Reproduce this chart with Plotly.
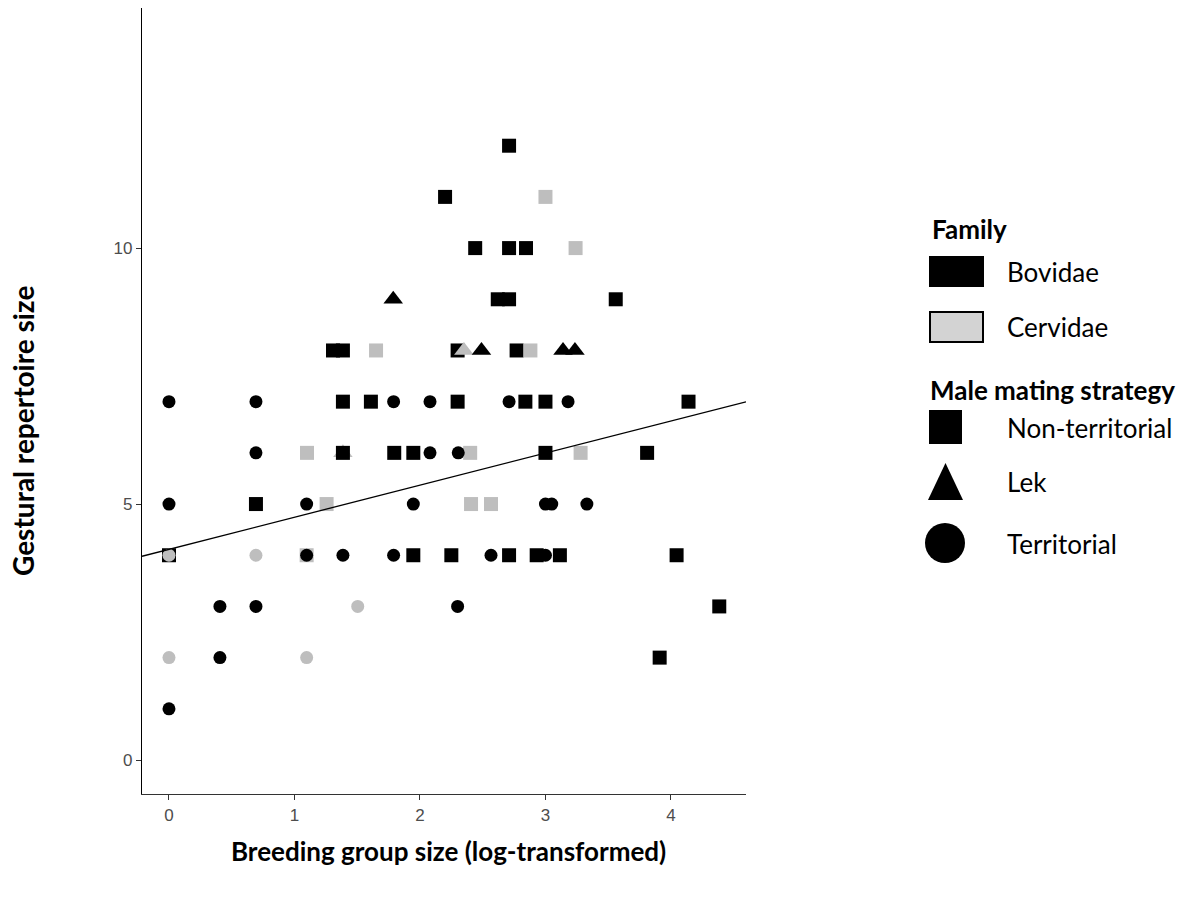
import plotly.graph_objects as go

# Breeding group size (log) and gestural repertoire size per species
x_vals = [
    2.71,
    2.20, 3.00,
    2.44, 2.71, 2.845, 3.24,
    1.787, 2.62, 2.71, 3.56,
    1.307, 1.386, 1.65, 2.30, 2.35, 2.49, 2.77, 2.88, 3.14, 3.235,
    0.0, 0.693, 1.386, 1.609, 1.79, 2.08, 2.30, 2.71, 2.84, 3.00, 3.18, 4.14,
    0.693, 1.10, 1.386, 1.386, 1.795, 1.947, 2.08, 2.40, 2.305, 3.00, 3.28, 3.81,
    0.0, 0.693, 1.097, 1.256, 1.947, 2.407, 2.566, 3.00, 3.05, 3.33,
    0.0, 0.0, 0.693, 1.097, 1.097, 1.386, 1.79, 1.947, 2.25, 2.566, 2.71, 2.93, 3.00, 3.115, 4.045,
    0.406, 0.693, 1.504, 2.30, 4.385,
    0.0, 0.406, 1.097, 3.91,
    0.0,
]
y_vals = [
    12,
    11, 11,
    10, 10, 10, 10,
    9, 9, 9, 9,
    8, 8, 8, 8, 8, 8, 8, 8, 8, 8,
    7, 7, 7, 7, 7, 7, 7, 7, 7, 7, 7, 7,
    6, 6, 6, 6, 6, 6, 6, 6, 6, 6, 6, 6,
    5, 5, 5, 5, 5, 5, 5, 5, 5, 5,
    4, 4, 4, 4, 4, 4, 4, 4, 4, 4, 4, 4, 4, 4, 4,
    3, 3, 3, 3, 3,
    2, 2, 2, 2,
    1,
]
family = [
    "B",
    "B", "C",
    "B", "B", "B", "C",
    "B", "B", "B", "B",
    "B", "B", "C", "B", "C", "B", "B", "C", "B", "B",
    "B", "B", "B", "B", "B", "B", "B", "B", "B", "B", "B", "B",
    "B", "C", "C", "B", "B", "B", "B", "C", "B", "B", "C", "B",
    "B", "B", "B", "C", "B", "C", "C", "B", "B", "B",
    "B", "C", "C", "C", "B", "B", "B", "B", "B", "B", "B", "B", "B", "B", "B",
    "B", "B", "C", "B", "B",
    "C", "B", "C", "B",
    "B",
]
strategy = [
    "NT",
    "NT", "NT",
    "NT", "NT", "NT", "NT",
    "L", "NT", "NT", "NT",
    "NT", "NT", "NT", "NT", "L", "L", "NT", "NT", "L", "L",
    "T", "T", "NT", "NT", "T", "T", "NT", "T", "NT", "NT", "T", "NT",
    "T", "NT", "L", "NT", "NT", "NT", "T", "NT", "T", "NT", "NT", "NT",
    "T", "NT", "T", "NT", "T", "NT", "NT", "T", "T", "T",
    "NT", "T", "T", "NT", "T", "T", "T", "NT", "NT", "T", "NT", "NT", "T", "NT", "NT",
    "T", "T", "T", "T", "NT",
    "T", "T", "T", "NT",
    "T",
]

# Fitted linear trend
intercept = 4.115
slope = 0.627

x_range = [-0.215, 4.598]
y_range = [-0.664, 14.69]

family_colors = {"B": "#000000", "C": "#BEBEBE"}
strategy_symbols = {"NT": "square", "L": "triangle-up", "T": "circle"}
strategy_sizes = {"NT": 14, "L": 17, "T": 13}

fig = go.Figure()

fig.add_trace(go.Scatter(
    x=x_vals, y=y_vals, mode="markers",
    marker=dict(
        color=[family_colors[f] for f in family],
        symbol=[strategy_symbols[s] for s in strategy],
        size=[strategy_sizes[s] for s in strategy],
        opacity=1,
        line=dict(width=0),
    ),
    showlegend=False, hoverinfo="skip",
))

fig.add_trace(go.Scatter(
    x=x_range, y=[intercept + slope * v for v in x_range],
    mode="lines", line=dict(color="black", width=1.3),
    showlegend=False, hoverinfo="skip",
))

# plot area in pixels
L, R, T, B = 142, 746, 8, 794
W, H = 1202, 897


def px(x):
    return (x - L) / (R - L)


def py(y):
    return (B - y) / (B - T)


font_main = "Lato, 'Open Sans', sans-serif"
text_size = 26
shapes = []
annotations = []

# Family legend
annotations.append(dict(x=px(930), y=py(229), xref="paper", yref="paper", text="<b>Family</b>",
                        showarrow=False, xanchor="left", yanchor="middle",
                        font=dict(family=font_main, size=text_size, color="black")))
shapes.append(dict(type="rect", xref="paper", yref="paper", x0=px(929), x1=px(984), y0=py(287), y1=py(256),
                   fillcolor="black", line=dict(width=0)))
shapes.append(dict(type="rect", xref="paper", yref="paper", x0=px(930), x1=px(983), y0=py(342), y1=py(312),
                   fillcolor="#D3D3D3", line=dict(color="black", width=2)))
for label, yc in [("Bovidae", 272), ("Cervidae", 327)]:
    annotations.append(dict(x=px(1005), y=py(yc), xref="paper", yref="paper", text=label,
                            showarrow=False, xanchor="left", yanchor="middle",
                            font=dict(family=font_main, size=text_size, color="black")))

# Mating strategy legend
annotations.append(dict(x=px(928), y=py(390), xref="paper", yref="paper", text="<b>Male mating strategy</b>",
                        showarrow=False, xanchor="left", yanchor="middle",
                        font=dict(family=font_main, size=text_size, color="black")))
shapes.append(dict(type="rect", xref="paper", yref="paper", x0=px(929), x1=px(962), y0=py(444), y1=py(410),
                   fillcolor="black", line=dict(width=0)))
shapes.append(dict(type="path", xref="paper", yref="paper",
                   path="M {:.5f},{:.5f} L {:.5f},{:.5f} L {:.5f},{:.5f} Z".format(
                       px(928), py(500), px(963), py(500), px(945.5), py(463)),
                   fillcolor="black", line=dict(width=0)))
shapes.append(dict(type="circle", xref="paper", yref="paper", x0=px(925), x1=px(965), y0=py(563), y1=py(523),
                   fillcolor="black", line=dict(width=0)))
for label, yc in [("Non-territorial", 428), ("Lek", 482), ("Territorial", 544)]:
    annotations.append(dict(x=px(1005), y=py(yc), xref="paper", yref="paper", text=label,
                            showarrow=False, xanchor="left", yanchor="middle",
                            font=dict(family=font_main, size=text_size, color="black")))

# Axis titles
annotations.append(dict(x=px(448), y=py(851), xref="paper", yref="paper",
                        text="<b>Breeding group size (log-transformed)</b>",
                        showarrow=False, xanchor="center", yanchor="middle",
                        font=dict(family=font_main, size=26, color="black")))
annotations.append(dict(x=px(23), y=py(431), xref="paper", yref="paper",
                        text="<b>Gestural repertoire size</b>", textangle=-90,
                        showarrow=False, xanchor="center", yanchor="middle",
                        font=dict(family=font_main, size=28, color="black")))

axis_common = dict(
    showgrid=False, zeroline=False, showline=True, linewidth=1.3,
    ticks="outside", ticklen=5, tickwidth=1, tickcolor="#333333",
    tickfont=dict(family="Liberation Sans, Arial, sans-serif", size=17, color="#4D4D4D"),
)

fig.update_layout(
    width=W, height=H,
    margin=dict(l=L, r=W - R, t=T, b=H - B),
    plot_bgcolor="white", paper_bgcolor="white",
    xaxis=dict(range=x_range, tickvals=[0, 1, 2, 3, 4], linecolor="#333333", **axis_common),
    yaxis=dict(range=y_range, tickvals=[0, 5, 10], linecolor="black", **axis_common),
    shapes=shapes, annotations=annotations,
    showlegend=False,
)

fig.write_html("out.html")
